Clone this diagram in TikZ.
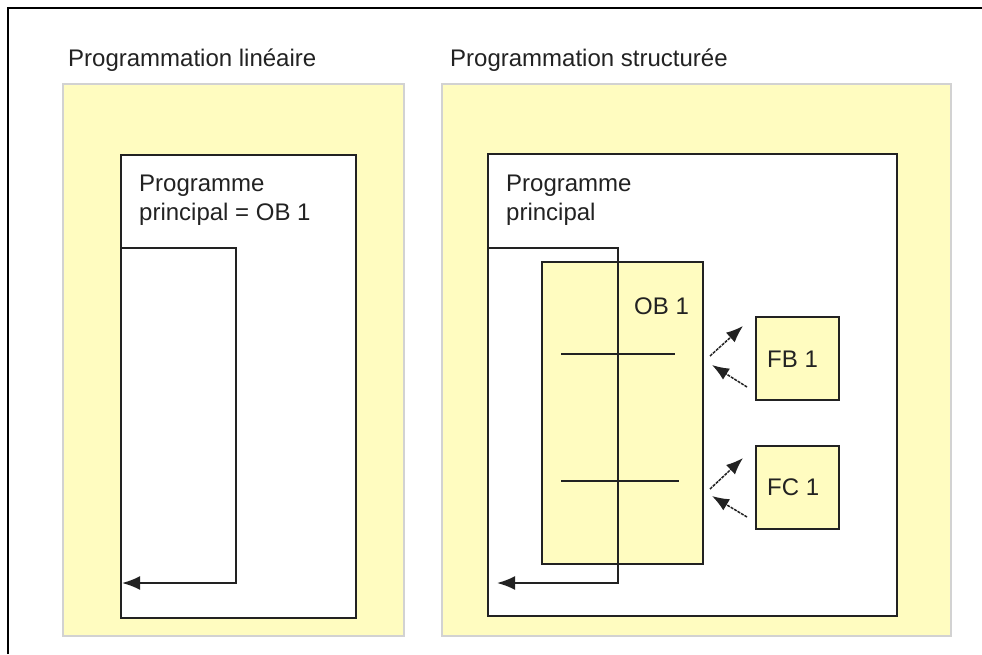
\documentclass[tikz,border=0pt]{standalone}
\usepackage{fontspec}
\setmainfont{Liberation Sans}
\usetikzlibrary{arrows.meta}

\definecolor{paneyellow}{RGB}{255,252,192}
\definecolor{panegray}{RGB}{210,210,210}
\definecolor{inkgray}{RGB}{34,34,34}

\tikzset{
  lbl/.style={font=\fontsize{24}{29}\selectfont, text=inkgray, inner sep=0pt, align=left},
  pane/.style={rectangle, draw=panegray, line width=2pt, fill=paneyellow, inner sep=0pt},
  prgbox/.style={rectangle, draw=inkgray, line width=2pt, fill=white, inner sep=0pt},
  blkbox/.style={rectangle, draw=inkgray, line width=2pt, fill=paneyellow, inner sep=0pt},
  flow/.style={draw=inkgray, line width=2pt, -{Latex[length=18pt,width=14pt]}},
  call/.style={draw=inkgray, line width=1.5pt, dash pattern=on 3pt off 1pt, -{Latex[length=17pt,width=13pt]}}
}

\begin{document}
\begin{tikzpicture}[x=1pt,y=-1pt]
\useasboundingbox (0,0) rectangle (982,654);
\fill[white] (0,0) rectangle (982,654);
\draw[line width=2pt] (8,654) -- (8,8) -- (982,8);

% titles
\node[lbl, anchor=base west] (titlelin) at (68,66) {Programmation linéaire};
\node[lbl, anchor=base west] (titlestr) at (450,66) {Programmation structurée};

% yellow panels
\node[pane, minimum width=341, minimum height=552] (panelin) at (233.5,360) {};
\node[pane, minimum width=509, minimum height=552] (panestr) at (696.5,360) {};

% linear program
\node[prgbox, minimum width=235, minimum height=463] (mainlin) at (238.5,386.5) {};
\node[lbl, anchor=north west] (txtlin) at (139,175) {Programme\\principal = OB 1};
\coordinate (linA) at (121,248);
\coordinate (linB) at (236,248);
\coordinate (linC) at (236,583);
\coordinate (linD) at (122,583);
\draw[flow] (linA) -- (linB) -- (linC) -- (linD);

% structured program
\node[prgbox, minimum width=409, minimum height=462] (mainstr) at (692.5,385) {};
\node[lbl, anchor=north west] (txtstr) at (506,175) {Programme\\principal};
\node[blkbox, minimum width=161, minimum height=302] (ob) at (622.5,413) {};
\node[lbl, anchor=base west] (oblbl) at (634,314) {OB 1};
\node[blkbox, minimum width=83, minimum height=83] (fb) at (797.5,358.5) {};
\node[lbl, anchor=base west] (fblbl) at (767,367) {FB 1};
\node[blkbox, minimum width=83, minimum height=83] (fc) at (797.5,487.5) {};
\node[lbl, anchor=base west] (fclbl) at (767,495) {FC 1};

\coordinate (strA) at (488,248);
\coordinate (strB) at (618,248);
\coordinate (strC) at (618,583);
\coordinate (strD) at (497,583);
\draw[flow] (strA) -- (strB) -- (strC) -- (strD);

% calls in OB 1
\draw[inkgray, line width=1.5pt] (561,354) -- (675,354);
\draw[inkgray, line width=1.5pt] (561,481) -- (679,481);

% calls to FB 1 and FC 1
\coordinate (fbout) at (710,356);
\coordinate (fbin) at (743,326);
\coordinate (fbret) at (747,387);
\coordinate (fbback) at (712,365);
\draw[call] (fbout) -- (fbin);
\draw[call] (fbret) -- (fbback);
\coordinate (fcout) at (710,489);
\coordinate (fcin) at (743,458);
\coordinate (fcret) at (747,517);
\coordinate (fcback) at (712,496);
\draw[call] (fcout) -- (fcin);
\draw[call] (fcret) -- (fcback);
\end{tikzpicture}
\end{document}
